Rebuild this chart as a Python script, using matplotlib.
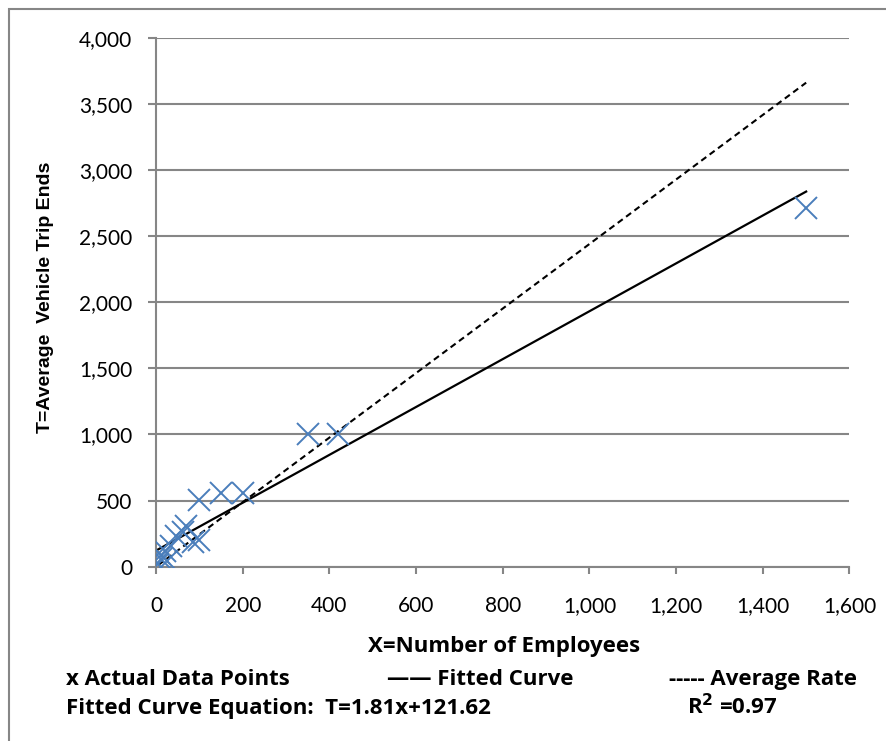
import matplotlib
matplotlib.use("Agg")
import matplotlib.pyplot as plt
from matplotlib.patches import Rectangle
import numpy as np

# data
employees = [1500, 350, 420, 100, 150, 200, 70, 62, 45, 85, 100, 35, 20, 8, 12, 25, 5]
trip_ends = [2710, 1000, 1000, 505, 560, 560, 310, 265, 230, 185, 200, 160, 120, 100, 60, 40, 20]
fit_slope = 1.81
fit_intercept = 121.62
avg_rate = 2.44
x_ticks = [0, 200, 400, 600, 800, 1000, 1200, 1400, 1600]
y_ticks = [0, 500, 1000, 1500, 2000, 2500, 3000, 3500, 4000]

W, H = 886, 741
grid_col = '#868686'
pt_col = '#4A7EBB'
font = 'Lato'
bold_font = 'Open Sans'

fig = plt.figure(figsize=(W / 100, H / 100), dpi=100)
ax = fig.add_axes([156 / W, 1 - 566.7 / H, (849.5 - 156) / W, (566.7 - 37.7) / H])

x = np.array(employees)
xs = np.array([x.min(), x.max()])
ax.plot(xs, fit_slope * xs + fit_intercept, color='black', lw=1.6, zorder=3)
ax.plot(xs, avg_rate * xs, color='black', lw=1.5, dashes=(3, 2), zorder=3)
ax.plot(employees, trip_ends, ls='none', marker='x', ms=16, mew=1.4, color=pt_col, zorder=4)

ax.set_xlim(0, 1600)
ax.set_ylim(0, 4000)
ax.set_xticks(x_ticks)
ax.set_yticks(y_ticks)
ax.set_xticklabels([f'{v:,}' for v in x_ticks], fontfamily=font, fontsize=15)
ax.set_yticklabels([f'{v:,}' for v in y_ticks], fontfamily=font, fontsize=15)
ax.tick_params(axis='y', direction='out', length=6, width=1.5, color=grid_col, pad=11)
ax.tick_params(axis='x', direction='out', length=5, width=1.5, color=grid_col, pad=16)
ax.grid(axis='y', color=grid_col, lw=1.5)
ax.set_axisbelow(True)
for s in ['top', 'right']:
    ax.spines[s].set_visible(False)
for s in ['left', 'bottom']:
    ax.spines[s].set_color(grid_col)
    ax.spines[s].set_linewidth(1.5)

# axis titles
fig.text(46 / W, 1 - 297 / H, 'T=Average  Vehicle Trip Ends', rotation=90, ha='center', va='center',
         fontfamily='Liberation Sans', fontweight='bold', fontsize=14)
fig.text(504 / W, 1 - 652 / H, 'X=Number of Employees', ha='center', va='baseline',
         fontfamily=bold_font, fontweight='bold', fontsize=16)

# legend lines written as text
tk = dict(fontfamily=bold_font, fontweight='bold', fontsize=16, va='baseline', ha='left')
fig.text(66 / W, 1 - 685 / H, 'x Actual Data Points', **tk)
fig.text(387 / W, 1 - 685 / H, '\u2014\u2014 Fitted Curve', **tk)
fig.text(669 / W, 1 - 685 / H, '----- Average Rate', **tk)
fig.text(66 / W, 1 - 714 / H, 'Fitted Curve Equation:  T=1.81x+121.62', **tk)
fig.text(687 / W, 1 - 714 / H, 'R$^\\mathbf{2}$ =0.97', **tk)

# outer chart border
fig.patches.append(Rectangle((9 / W, -0.1), 1.2, 1 - 9 / H + 0.1, transform=fig.transFigure,
                             fill=False, edgecolor=grid_col, lw=1.5))

fig.savefig('out.png', dpi=100)
